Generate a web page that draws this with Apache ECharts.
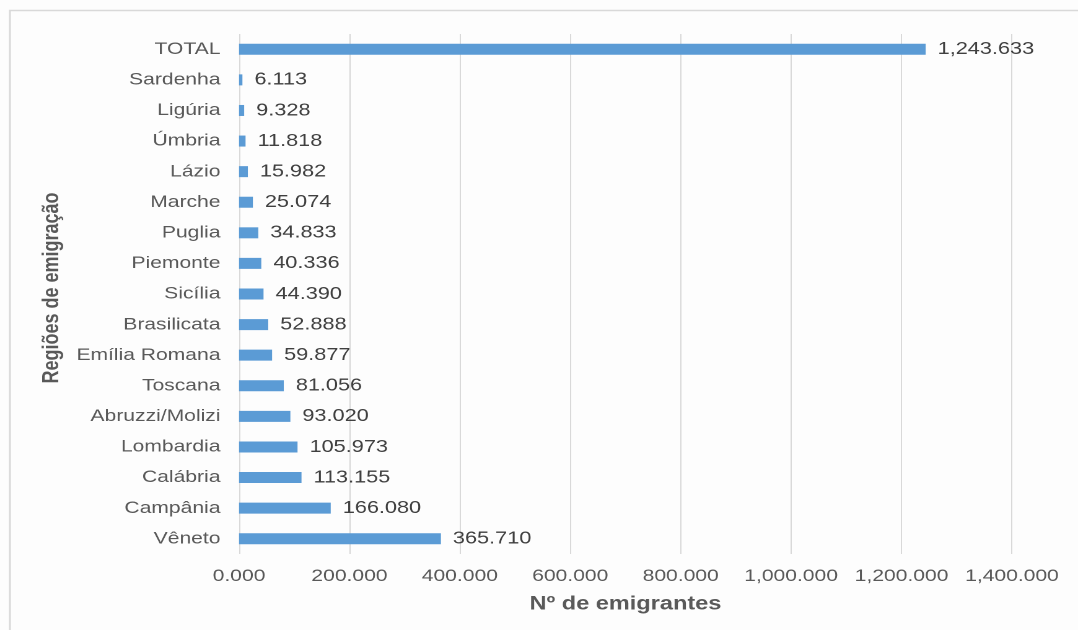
<!DOCTYPE html>
<html>
<head>
<meta charset="utf-8">
<script src="https://cdn.jsdelivr.net/npm/echarts@6/dist/echarts.min.js"></script>
<style>
html,body{margin:0;padding:0;background:#fdfdfd;overflow:hidden;}
#wrap{width:1078px;height:630px;overflow:hidden;}
#chart{width:870px;height:630px;transform:scaleX(1.23908);transform-origin:0 0;}
</style>
</head>
<body>
<div id="wrap"><div id="chart"></div></div>
<script>
const categories = ["Vêneto","Campânia","Calábria","Lombardia","Abruzzi/Molizi","Toscana","Emília Romana","Brasilicata","Sicília","Piemonte","Puglia","Marche","Lázio","Úmbria","Ligúria","Sardenha","TOTAL"];
const values = [365710,166080,113155,105973,93020,81056,59877,52888,44390,40336,34833,25074,15982,11818,9328,6113,1243633];
const xTickMin = 0, xTickMax = 1400000, xTickStep = 200000;

function fmt(v){
  return (v/1000).toLocaleString('en-US',{minimumFractionDigits:3,maximumFractionDigits:3});
}

const chart = echarts.init(document.getElementById('chart'), null, {devicePixelRatio:2});
const font = 'Liberation Sans, Arial, sans-serif';
chart.setOption({
  backgroundColor:'#fdfdfd',
  animation:false,
  graphic:[{type:'rect',shape:{x:8,y:10.5,width:1000,height:700},style:{fill:'none',stroke:'#d9d9d9',lineWidth:1.5},silent:true}],
  grid:{left:192.9,right:53.3,top:34,bottom:76,containLabel:false},
  xAxis:{
    type:'value',min:xTickMin,max:xTickMax,interval:xTickStep,
    axisLine:{show:false},axisTick:{show:false},
    splitLine:{show:true,lineStyle:{color:'#d9d9d9',width:1}},
    axisLabel:{formatter:fmt,color:'#595959',fontSize:17,fontFamily:font,margin:14},
    name:'Nº de emigrantes',nameLocation:'middle',nameGap:41,
    nameTextStyle:{color:'#595959',fontSize:19,fontWeight:'bold',fontFamily:font}
  },
  yAxis:{
    type:'category',data:categories,
    axisLine:{show:false},axisTick:{show:false},
    axisLabel:{color:'#595959',fontSize:17,fontFamily:font,margin:15},
    name:'Regiões de emigração',nameLocation:'middle',nameGap:129,nameRotate:90,
    nameTextStyle:{color:'#595959',fontSize:18,fontWeight:'bold',fontFamily:font,padding:[0,0,0,12]}
  },
  series:[{
    type:'bar',data:values,barWidth:11,
    itemStyle:{color:'#5b9bd5'},
    label:{show:true,position:'right',distance:9.7,formatter:p=>fmt(p.value),color:'#404040',fontSize:17.5,fontFamily:font}
  }]
});
</script>
</body>
</html>
